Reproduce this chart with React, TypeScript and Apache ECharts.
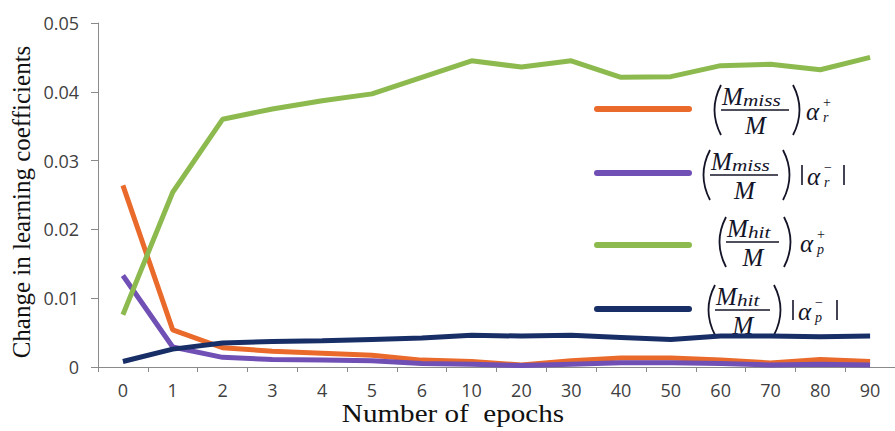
import React, { useEffect, useRef } from "react";
import * as echarts from "echarts";

const categories = ["0", "1", "2", "3", "4", "5", "6", "10", "20", "30", "40", "50", "60", "70", "80", "90"];
const missPlus = [0.0264, 0.0054, 0.0028, 0.0023, 0.002, 0.0017, 0.001, 0.0008, 0.0003, 0.0009, 0.0013, 0.0013, 0.001, 0.0006, 0.0011, 0.0008];
const missMinus = [0.0133, 0.0029, 0.0014, 0.0011, 0.001, 0.0009, 0.0005, 0.0004, 0.0002, 0.0004, 0.0006, 0.0006, 0.0005, 0.0003, 0.0004, 0.0003];
const hitPlus = [0.0076, 0.0254, 0.036, 0.0375, 0.0387, 0.0397, 0.0421, 0.0445, 0.0436, 0.0445, 0.0421, 0.0422, 0.0438, 0.044, 0.0432, 0.045];
const hitMinus = [0.0008, 0.0026, 0.0035, 0.0037, 0.0038, 0.004, 0.0042, 0.0046, 0.0045, 0.0046, 0.0043, 0.004, 0.0045, 0.0045, 0.0044, 0.0045];
const yTicks = [0, 0.01, 0.02, 0.03, 0.04, 0.05];

const COLORS = ["#E96A2A", "#7150B6", "#8DBA4E", "#182E66"];
const INK = "#141428";
const MATH = '"Liberation Serif"';

type Item = {
  color: string; lineY: number; cy: number; sub: string; asub: string; sign: string; abs: boolean;
  parenL: number; numL: number; numR: number; parenR: number; bar1?: number; alphaX: number; bar2?: number;
};

const items: Item[] = [
  { color: COLORS[0], lineY: 109, cy: 110, sub: "miss", asub: "r", sign: "+", abs: false, parenL: 713, numL: 722, numR: 789, parenR: 801, alphaX: 806 },
  { color: COLORS[1], lineY: 173, cy: 175, sub: "miss", asub: "r", sign: "\u2212", abs: true, parenL: 702, numL: 711, numR: 778, parenR: 791, bar1: 802, alphaX: 807, bar2: 844 },
  { color: COLORS[2], lineY: 245, cy: 242, sub: "hit", asub: "p", sign: "+", abs: false, parenL: 718, numL: 727, numR: 779, parenR: 792, alphaX: 800 },
  { color: COLORS[3], lineY: 309, cy: 310, sub: "hit", asub: "p", sign: "\u2212", abs: true, parenL: 707, numL: 716, numR: 770, parenR: 782, bar1: 793, alphaX: 798, bar2: 837 },
];

function buildLegend(it: Item): any[] {
  const els: any[] = [];
  const cy = it.cy;
  els.push({ type: "line", shape: { x1: 597, y1: it.lineY, x2: 689, y2: it.lineY }, style: { stroke: it.color, lineWidth: 6, lineCap: "round" } });
  const top = cy - 25, bot = cy + 25;
  els.push({ type: "bezierCurve", shape: { x1: it.parenL + 8, y1: top, x2: it.parenL + 8, y2: bot, cpx1: it.parenL - 5, cpy1: cy }, style: { stroke: INK, lineWidth: 1.8, fill: null } });
  els.push({ type: "bezierCurve", shape: { x1: it.parenR - 8, y1: top, x2: it.parenR - 8, y2: bot, cpx1: it.parenR + 5, cpy1: cy }, style: { stroke: INK, lineWidth: 1.8, fill: null } });
  els.push({ type: "text", x: it.numL, y: cy - 14, style: { text: "M", font: `italic 25px ${MATH}`, fill: INK, align: "left", verticalAlign: "middle" } });
  els.push({ type: "text", x: it.numL + 21, y: cy - 10, scaleX: 1.25, style: { text: it.sub, font: `italic 17px ${MATH}`, fill: INK, align: "left", verticalAlign: "middle" } });
  els.push({ type: "line", shape: { x1: it.numL - 1, y1: cy, x2: it.numR, y2: cy }, style: { stroke: INK, lineWidth: 1.3 } });
  els.push({ type: "text", x: (it.numL + it.numR) / 2, y: cy + 15, style: { text: "M", font: `italic 25px ${MATH}`, fill: INK, align: "center", verticalAlign: "middle" } });
  if (it.abs && it.bar1 !== undefined) {
    els.push({ type: "line", shape: { x1: it.bar1, y1: cy - 10, x2: it.bar1, y2: cy + 10 }, style: { stroke: INK, lineWidth: 1.6 } });
  }
  els.push({ type: "text", x: it.alphaX, y: cy + 1, style: { text: "\u03b1", font: `italic 25px ${MATH}`, fill: INK, align: "left", verticalAlign: "middle" } });
  els.push({ type: "text", x: it.alphaX + 17, y: cy - 8, style: { text: it.sign, font: `14px ${MATH}`, fill: INK, align: "left", verticalAlign: "middle" } });
  els.push({ type: "text", x: it.alphaX + 17, y: cy + 7, style: { text: it.asub, font: `italic 14px ${MATH}`, fill: INK, align: "left", verticalAlign: "middle" } });
  if (it.abs && it.bar2 !== undefined) {
    els.push({ type: "line", shape: { x1: it.bar2, y1: cy - 10, x2: it.bar2, y2: cy + 10 }, style: { stroke: INK, lineWidth: 1.6 } });
  }
  return els;
}

export default function App() {
  const ref = useRef<HTMLDivElement>(null);
  useEffect(() => {
    if (!ref.current) return;
    const chart = echarts.init(ref.current, undefined, { renderer: "svg" });
    const seriesData = [missPlus, missMinus, hitPlus, hitMinus];
    const names = ["(Mmiss/M) αr+", "(Mmiss/M) |αr−|", "(Mhit/M) αp+", "(Mhit/M) |αp−|"];
    const graphics: any[] = [];
    items.forEach((it) => graphics.push(...buildLegend(it)));
    graphics.push({
      type: "text", x: 21, y: 202, rotation: Math.PI / 2,
      style: { text: "Change in learning coefficients", font: '25px "Liberation Serif"', fill: "#111", align: "center", verticalAlign: "middle" },
    });
    graphics.push({
      type: "text", x: 453, y: 413, scaleX: 1.12,
      style: { text: "Number of  epochs", font: '26px "Liberation Serif"', fill: "#111", align: "center", verticalAlign: "middle" },
    });
    chart.setOption({
      animation: false,
      backgroundColor: "#ffffff",
      grid: { left: 98, top: 23, width: 801, height: 344 },
      xAxis: {
        type: "category",
        data: categories,
        boundaryGap: true,
        axisLine: { lineStyle: { color: "#8a8a8a", width: 1 } },
        axisTick: { show: true, length: 5, lineStyle: { color: "#8a8a8a" } },
        axisLabel: { fontFamily: '"Open Sans"', fontSize: 18, color: "#3f3f3f", margin: 14, interval: 0 },
        splitLine: { show: false },
      },
      yAxis: {
        type: "value",
        min: yTicks[0],
        max: yTicks[yTicks.length - 1],
        interval: 0.01,
        axisLine: { show: true, lineStyle: { color: "#8a8a8a", width: 1 } },
        axisTick: { show: true, length: 7, lineStyle: { color: "#8a8a8a" } },
        axisLabel: {
          fontFamily: '"Open Sans"', fontSize: 18, color: "#3f3f3f", margin: 19,
          formatter: (v: number) => (v === 0 ? "0" : v.toFixed(2)),
        },
        splitLine: { show: false },
      },
      series: seriesData.map((d, i) => ({
        name: names[i],
        type: "line",
        data: d,
        showSymbol: false,
        symbol: "none",
        lineStyle: { color: COLORS[i], width: 5 },
        itemStyle: { color: COLORS[i] },
      })),
      graphic: graphics,
    });
    return () => chart.dispose();
  }, []);
  return <div ref={ref} style={{ position: "absolute", left: 0, top: 0, width: 895, height: 431 }} />;
}
